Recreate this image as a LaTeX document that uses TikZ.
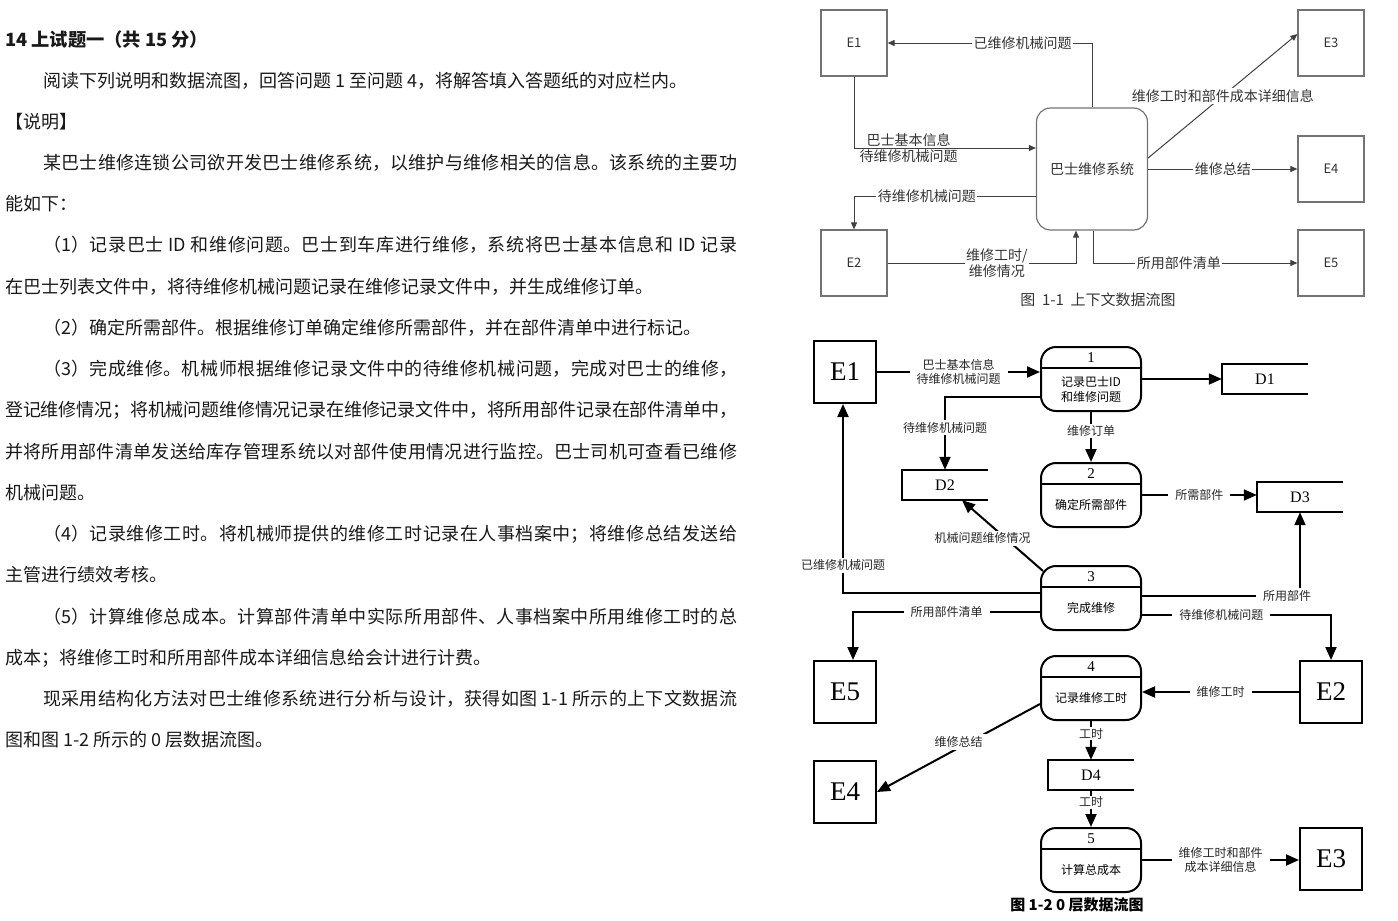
\documentclass[tikz,border=0pt]{standalone}
\usepackage{fontspec}
\setmainfont{Noto Sans CJK SC}
\newfontfamily\dfdserif{Liberation Serif}
\XeTeXlinebreaklocale "zh"
\XeTeXlinebreakskip = 0pt plus 2pt minus 0.5pt
\usetikzlibrary{positioning, calc, arrows.meta}

\newcommand{\jline}[2]{\parbox{#1}{\parfillskip=0pt #2}}

\begin{document}
\begin{tikzpicture}[
        x=1pt, y=-1pt,
        txt/.style={anchor=west, inner sep=0pt, font=\fontsize{18}{20}\selectfont, text=black!90},
        ctxbox/.style={draw=black!55, line width=1.2pt, minimum width=66pt, minimum height=66pt, font=\fontsize{13}{15}\selectfont, text=black!80},
        ctxproc/.style={draw=black!55, line width=1.2pt, rounded corners=14pt, minimum width=111pt, minimum height=122pt, font=\fontsize{14}{16}\selectfont, text=black!80},
        ctxflow/.style={draw=black!75, line width=1pt, -{Triangle[length=7pt,width=6pt]}},
        ctxlbl/.style={fill=white, inner sep=1.5pt, font=\fontsize{14}{16}\selectfont, text=black!80, align=center},
        ext/.style={draw, line width=2pt, minimum width=62pt, minimum height=62pt, font=\dfdserif\fontsize{27}{30}\selectfont},
        proc/.style={draw, line width=2pt, rounded corners=15pt, minimum width=100pt, minimum height=64pt},
        pnum/.style={inner sep=0pt, font=\dfdserif\fontsize{15}{16}\selectfont},
        ptxt/.style={inner sep=0pt, align=center, font=\fontsize{12}{15}\selectfont},
        store/.style={minimum width=86pt, minimum height=30pt, font=\dfdserif\fontsize{16}{18}\selectfont},
        flow/.style={line width=2pt, -{Triangle[length=13pt,width=11pt]}},
        lbl/.style={fill=white, inner xsep=7pt, inner ysep=2pt, align=center, font=\fontsize{12}{14}\selectfont, text=black!85}
    ]
        \useasboundingbox (0,0) rectangle (1398,921);

        % Question text
        \node[txt, font=\bfseries\fontsize{18.25}{20}\selectfont] (title) at (5,40) {14 上试题一（共 15 分）};
        \node[txt] (t1) at (43,81) {阅读下列说明和数据流图，回答问题 1 至问题 4，将解答填入答题纸的对应栏内。};
        \node[txt] (t2) at (5,122) {【说明】};
        \node[txt] (t3) at (43,163) {\jline{694pt}{某巴士维修连锁公司欲开发巴士维修系统，以维护与维修相关的信息。该系统的主要功}};
        \node[txt] (t4) at (5,204) {能如下：};
        \node[txt] (t5) at (43,245) {\jline{694pt}{（1）记录巴士 ID 和维修问题。巴士到车库进行维修，系统将巴士基本信息和 ID 记录}};
        \node[txt] (t6) at (5,287) {在巴士列表文件中，将待维修机械问题记录在维修记录文件中，并生成维修订单。};
        \node[txt] (t7) at (43,328) {（2）确定所需部件。根据维修订单确定维修所需部件，并在部件清单中进行标记。};
        \node[txt] (t8) at (43,369) {\jline{694pt}{（3）完成维修。机械师根据维修记录文件中的待维修机械问题，完成对巴士的维修，}};
        \node[txt] (t9) at (5,410) {\jline{732pt}{登记维修情况；将机械问题维修情况记录在维修记录文件中，将所用部件记录在部件清单中，}};
        \node[txt] (t10) at (5,452) {\jline{732pt}{并将所用部件清单发送给库存管理系统以对部件使用情况进行监控。巴士司机可查看已维修}};
        \node[txt] (t11) at (5,493) {机械问题。};
        \node[txt] (t12) at (43,534) {\jline{694pt}{（4）记录维修工时。将机械师提供的维修工时记录在人事档案中；将维修总结发送给}};
        \node[txt] (t13) at (5,575) {主管进行绩效考核。};
        \node[txt] (t14) at (43,617) {\jline{694pt}{（5）计算维修总成本。计算部件清单中实际所用部件、人事档案中所用维修工时的总}};
        \node[txt] (t15) at (5,658) {成本；将维修工时和所用部件成本详细信息给会计进行计费。};
        \node[txt] (t16) at (43,699) {\jline{694pt}{现采用结构化方法对巴士维修系统进行分析与设计，获得如图 1-1 所示的上下文数据流}};
        \node[txt] (t17) at (5,740) {图和图 1-2 所示的 0 层数据流图。};

        % Context diagram
        \node[ctxbox] (c1e1) at (854,43) {E1};
        \node[ctxbox] (c1e3) at (1331,43) {E3};
        \node[ctxbox] (c1e4) at (1331,169) {E4};
        \node[ctxbox] (c1e2) at (854,263) {E2};
        \node[ctxbox] (c1e5) at (1331,263) {E5};
        \node[ctxproc] (sys) at (1092,169) {巴士维修系统};

        \draw[ctxflow] (sys.north) |- node[ctxlbl, pos=0.67] (f1) {已维修机械问题} (c1e1.east);
        \draw[ctxflow] (c1e1.south) |- node[ctxlbl, fill=none, pos=0.65] (f2) {巴士基本信息\\待维修机械问题} ([yshift=21pt]sys.west);
        \draw[ctxflow] ([yshift=-27pt]sys.west) -| node[ctxlbl, pos=0.3] (f3) {待维修机械问题} (c1e2.north);
        \draw[ctxflow] (c1e2.east) -| node[ctxlbl, pos=0.29] (f4) {维修工时/\\维修情况} ([xshift=-16pt]sys.south);
        \draw[ctxflow] ([xshift=1pt]sys.south) |- node[ctxlbl, pos=0.71] (f5) {所用部件清单} (c1e5.west);
        \draw[ctxflow] (sys.east) -- node[ctxlbl] (f6) {维修总结} (c1e4.west);
        \draw[ctxflow] ([yshift=11pt]sys.east) -- node[ctxlbl] (f7) {维修工时和部件成本详细信息} ([yshift=9pt]c1e3.west);

        \node[font=\fontsize{15}{17}\selectfont, text=black!80] (cap1) at (1098,300) {图\ \ 1-1\ \ 上下文数据流图};

        % Level 0 diagram
        \node[ext] (e1) at (845,372) {E1};
        \node[ext] (e5) at (845,692) {E5};
        \node[ext] (e4) at (845,792) {E4};
        \node[ext] (e2) at (1331,692) {E2};
        \node[ext] (e3) at (1331,859) {E3};

        \foreach \n/\py/\ptext in {1/379/{记录巴士ID\\和维修问题}, 2/495/确定所需部件, 3/598/完成维修, 4/688/记录维修工时, 5/860/计算总成本} {
            \node[proc] (p\n) at (1091,\py) {};
            \node[pnum] (p\n n) at ($(p\n.north)+(0,12)$) {\n};
            \node[ptxt] (p\n t) at ($(p\n.north)+(0,43)$) {\ptext};
            \draw[line width=1.5pt] ($(p\n.north west)+(0,22)$) -- ($(p\n.north east)+(0,22)$);
        }

        \foreach \s/\sl/\sx/\sy in {d1/D1/1265/379, d2/D2/945/485, d3/D3/1300/497, d4/D4/1091/775} {
            \node[store] (\s) at (\sx,\sy) {\sl};
            \draw[line width=1.6pt] (\s.north east) -- (\s.north west) -- (\s.south west) -- (\s.south east);
        }

        \draw[flow] (e1.east) -- node[lbl] (g1) {巴士基本信息\\待维修机械问题} (e1.east -| p1.west);
        \draw[flow] (p1.east) -- (p1.east -| d1.west);
        \draw[flow] ([yshift=-18pt]p1.west) -| node[lbl, pos=0.71] (g2) {待维修机械问题} (d2.north);
        \draw[flow] (p1.south) -- node[lbl, inner ysep=1pt, pos=0.38] (g3) {维修订单} (p2.north);
        \draw[flow] (p2.east) -- node[lbl] (g4) {所需部件} (p2.east -| d3.west);
        \draw[flow] ($(p3.north west)+(3,6)$) -- node[lbl, pos=0.46, xshift=-23pt] (g5) {机械问题维修情况} ([xshift=17pt]d2.south);
        \draw[flow] ([yshift=5pt]p3.west) -| node[lbl, pos=0.574] (g6) {已维修机械问题} ([xshift=-2pt]e1.south);
        \draw[flow] ([yshift=-14pt]p3.west) -| node[lbl, pos=0.25] (g7) {所用部件清单} ([xshift=8pt]e5.north);
        \draw[flow] ([yshift=2pt]p3.east) -| node[lbl, pos=0.5, xshift=-13pt] (g8) {所用部件} (d3.south);
        \draw[flow] ([yshift=-17pt]p3.east) -| node[lbl, pos=0.21] (g9) {待维修机械问题} (e2.north);
        \draw[flow] (e2.west) -- node[lbl] (g10) {维修工时} (e2.west -| p4.east);
        \draw[flow] ([yshift=-16pt]p4.west) -- node[lbl, yshift=6pt] (g11) {维修总结} (e4.east);
        \draw[flow] (p4.south) -- node[lbl, inner ysep=1pt, pos=0.33] (g12) {工时} (d4.north);
        \draw[flow] (d4.south) -- node[lbl, inner ysep=1pt, pos=0.33] (g13) {工时} (p5.north);
        \draw[flow] (p5.east) -- node[lbl] (g14) {维修工时和部件\\成本详细信息} (p5.east -| e3.west);

        \node[font=\bfseries\fontsize{15}{17}\selectfont] (cap2) at (1077,905) {图 1-2 0 层数据流图};
    \end{tikzpicture}
\end{document}
